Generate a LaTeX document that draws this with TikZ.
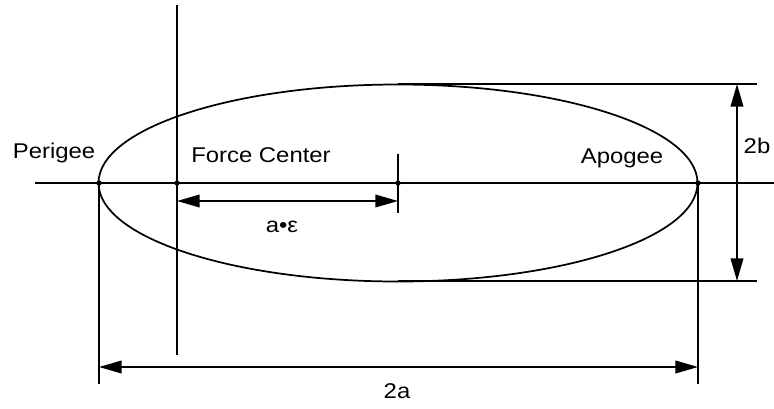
\documentclass[tikz,border=0pt]{standalone}
\usepackage{fontspec}
\setmainfont{Liberation Sans}
\usetikzlibrary{arrows.meta}
\newcommand{\widetext}[1]{\scalebox{1.12}[1]{#1}}
\begin{document}
\begin{tikzpicture}[x=0.75pt,y=-0.75pt,
  line/.style={line width=1.3pt, black},
  dim/.style={line width=1.3pt, black, {Triangle[length=17pt,width=9.5pt]}-{Triangle[length=17pt,width=9.5pt]}},
  lbl/.style={font=\fontsize{16}{19}\selectfont, inner sep=0pt},
  dotmark/.style={circle, fill=black, inner sep=0pt, minimum size=4pt}]
\useasboundingbox (0,0) rectangle (774,408);
% key points
\coordinate (axL) at (35,183);
\coordinate (axR) at (774,183);
\coordinate (P) at (99,183);
\coordinate (A) at (698,183);
\coordinate (F) at (177,183);
\coordinate (C) at (398,183);
\coordinate (Ftop) at (177,5);
\coordinate (Fbot) at (177,355);
\coordinate (Ctop) at (398,154);
\coordinate (Cbot) at (398,213);
\coordinate (aeL) at (177,201);
\coordinate (aeR) at (398,201);
\coordinate (Pbot) at (99,384);
\coordinate (Abot) at (698,384);
\coordinate (twoaL) at (99,367);
\coordinate (twoaR) at (698,367);
\coordinate (T) at (398,84);
\coordinate (B) at (398,281);
\coordinate (TR) at (757,84);
\coordinate (BR) at (757,281);
\coordinate (bT) at (737,84);
\coordinate (bB) at (737,281);
% ellipse
\draw[line] (C) ellipse [x radius=299.5, y radius=98.5];
% axes and guide lines
\draw[line] (axL) -- (axR);
\draw[line] (Ftop) -- (Fbot);
\draw[line] (Ctop) -- (Cbot);
\draw[line] (P) -- (Pbot);
\draw[line] (A) -- (Abot);
\draw[line] (T) -- (TR);
\draw[line] (B) -- (BR);
% dimension arrows
\draw[dim] (aeL) -- (aeR);
\draw[dim] (twoaL) -- (twoaR);
\draw[dim] (bT) -- (bB);
% dots
\node[dotmark] (dP) at (P) {};
\node[dotmark] (dA) at (A) {};
\node[dotmark] (dF) at (F) {};
\node[dotmark] (dC) at (C) {};
% labels
\node[lbl] (perigee) at (54,153) {\widetext{Perigee}};
\node[lbl] (force) at (261,155) {\widetext{Force Center}};
\node[lbl] (apogee) at (622,158) {\widetext{Apogee}};
\node[lbl] (lab2b) at (757,146) {\widetext{2b}};
\node[lbl] (labae) at (282,227) {\widetext{a•ε}};
\node[lbl] (lab2a) at (397,391) {\widetext{2a}};
\end{tikzpicture}
\end{document}
